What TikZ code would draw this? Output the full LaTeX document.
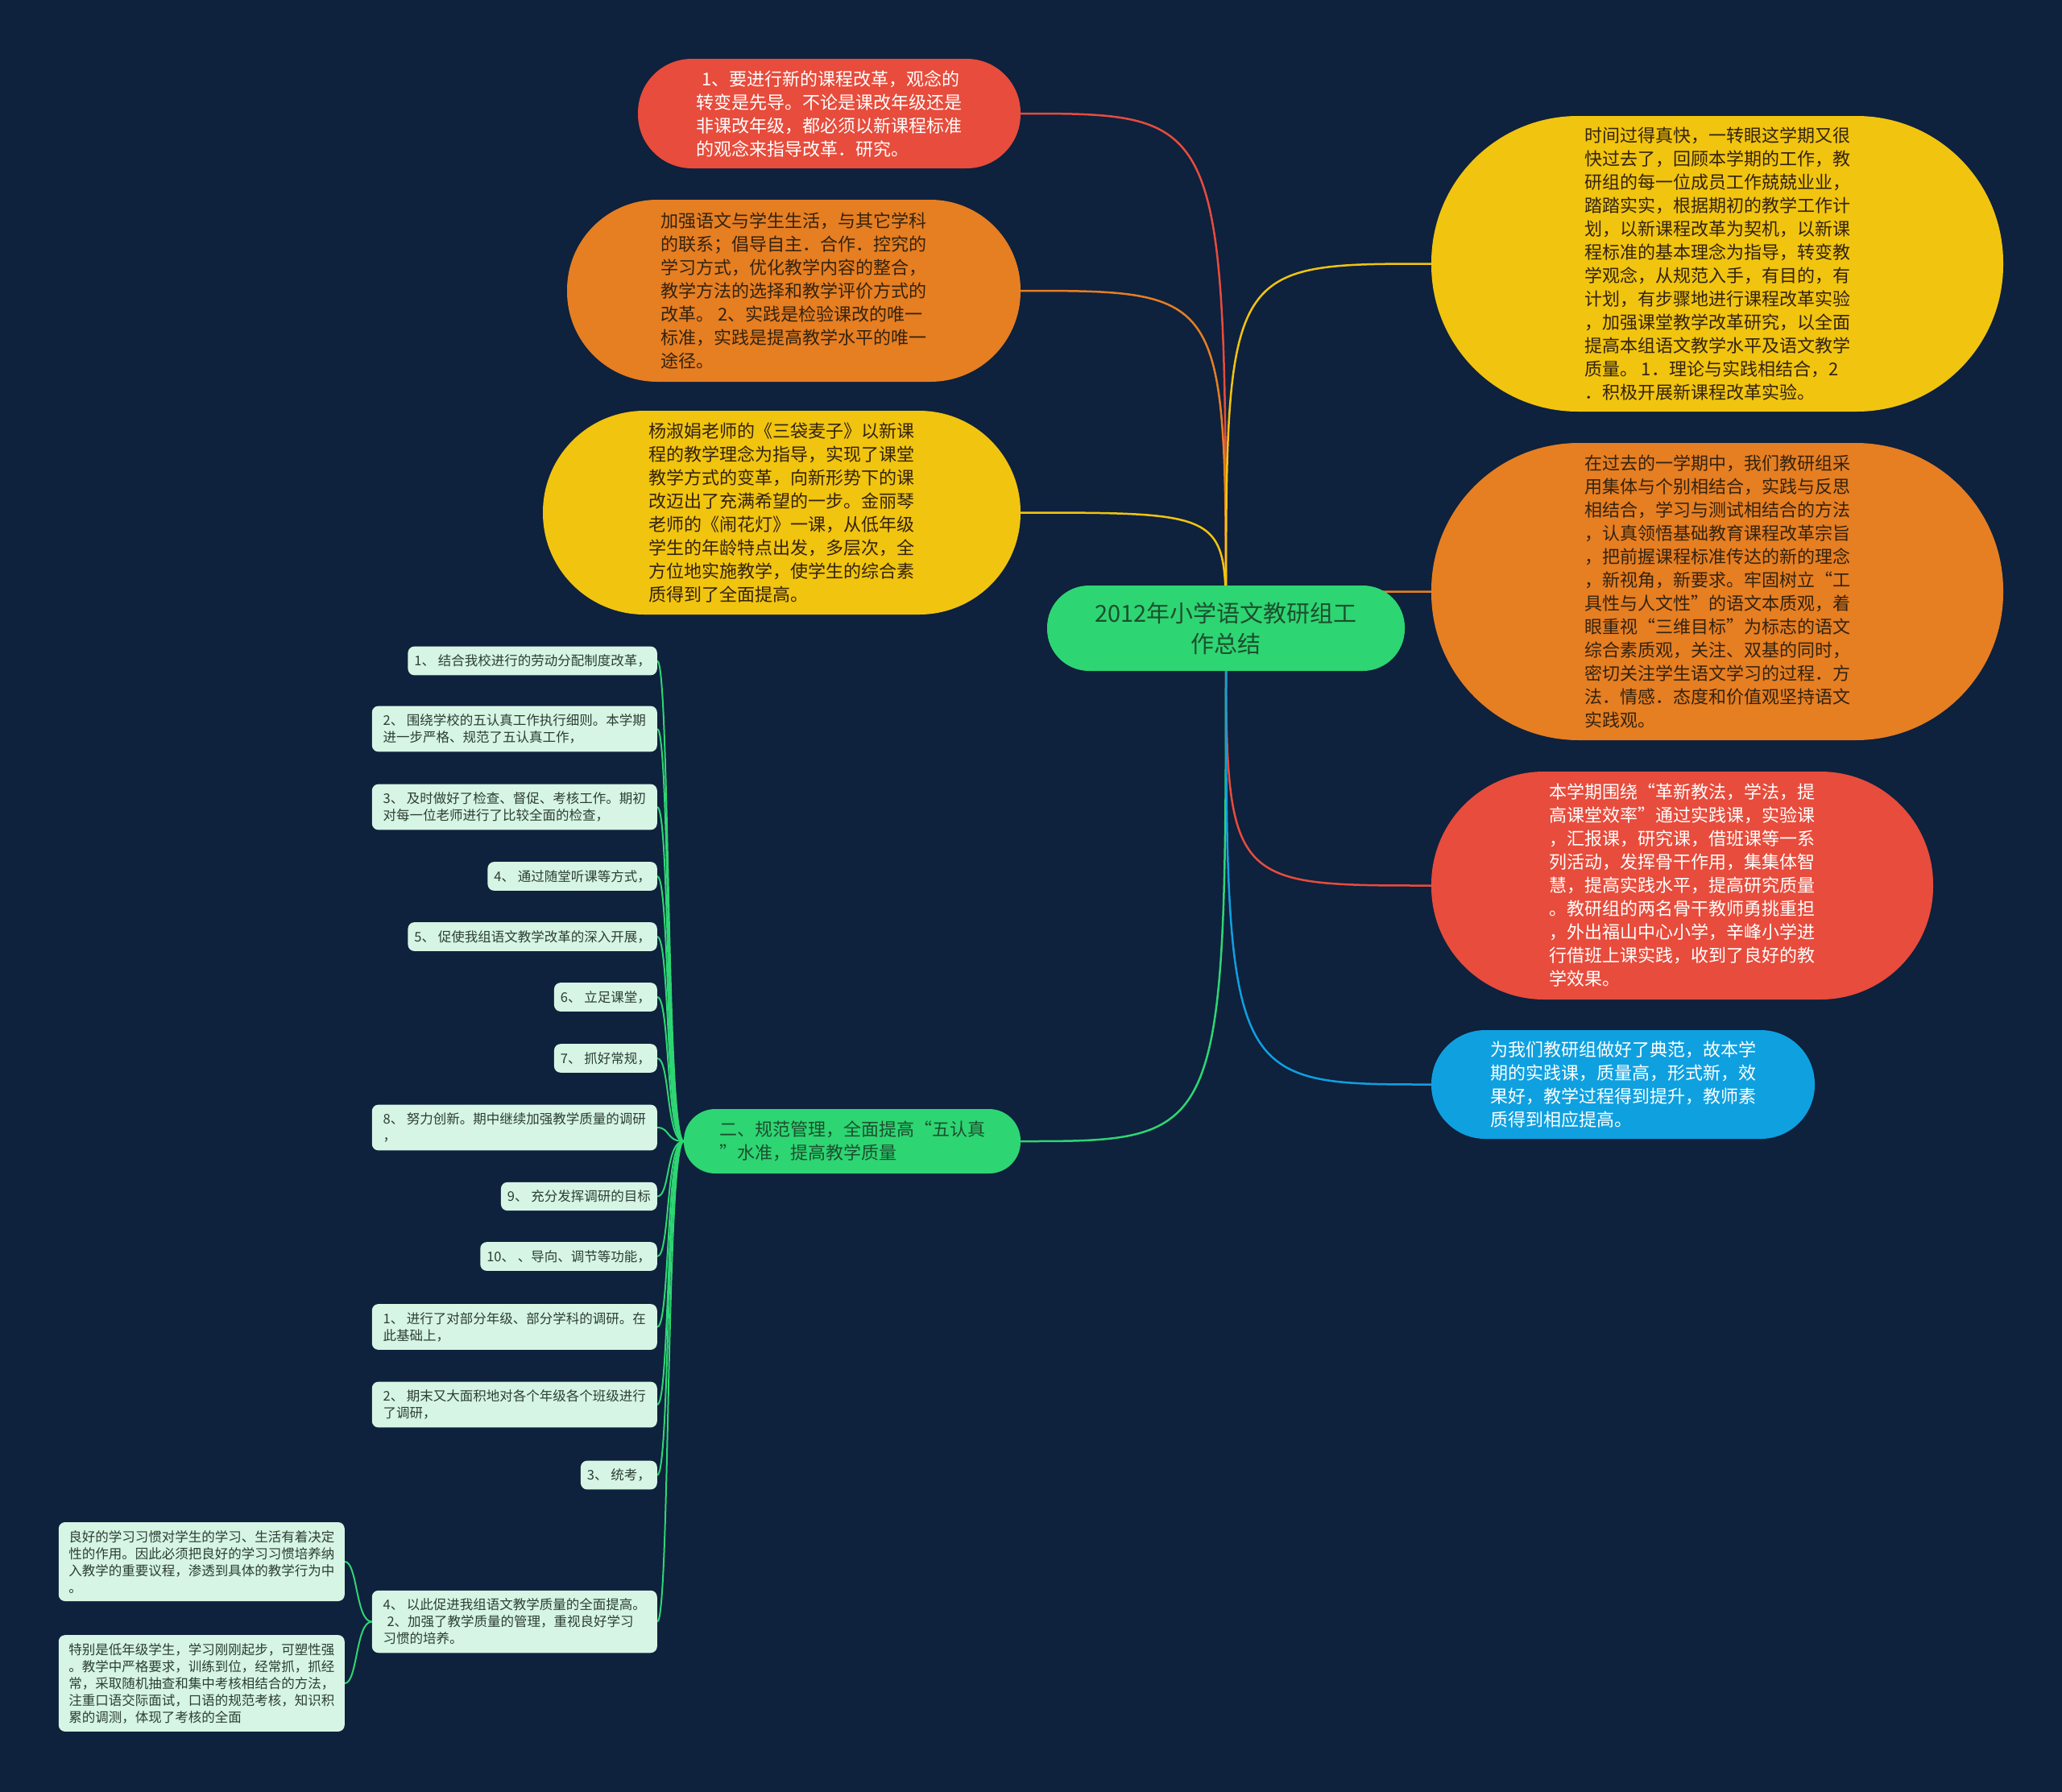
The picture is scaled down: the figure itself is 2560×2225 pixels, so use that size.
\documentclass[tikz,border=0pt]{standalone}
\usepackage{xcolor}
\usepackage{fontspec}
\usepackage{tikz}
\usetikzlibrary{positioning,backgrounds}
\newfontfamily\cjk{Noto Sans CJK SC}

\definecolor{bgnavy}{HTML}{0E213D}
\definecolor{mmred}{HTML}{E74C3C}
\definecolor{mmorange}{HTML}{E67E22}
\definecolor{mmyellow}{HTML}{F1C40F}
\definecolor{mmblue}{HTML}{0FA0E0}
\definecolor{mmgreen}{HTML}{2ED573}
\definecolor{leafgreen}{HTML}{D6F5E4}
\definecolor{darktext}{HTML}{33230F}
\definecolor{greentext}{HTML}{1C4F2E}
\definecolor{leaftext}{HTML}{2C3E35}

\begin{document}
\begin{tikzpicture}[
  x=1pt, y=-1pt,
  topic/.style={
    align=left,
    inner sep=0pt,
    font=\cjk\fontsize{22}{29}\selectfont
  },
  root/.style={
    align=center,
    inner sep=0pt,
    fill=mmgreen,
    text=greentext,
    font=\cjk\fontsize{29}{38}\selectfont
  },
  leaf/.style={
    anchor=east,
    align=left,
    fill=leafgreen,
    text=leaftext,
    rounded corners=8pt,
    inner xsep=8pt,
    inner ysep=10pt,
    font=\cjk\fontsize{16.5}{21}\selectfont
  },
  link/.style={line width=2.5pt},
  twig/.style={line width=2pt, draw=mmgreen}
]
\useasboundingbox (0,0) rectangle (2560,2225);
\begin{scope}[on background layer]
  \fill[bgnavy] (0,0) rectangle (2560,2225);
\end{scope}

% central topic
\node[root, minimum width=444pt, minimum height=106pt, rounded corners=52pt] (ctr) at (1522,780)
  {2012年小学语文教研组工\\作总结};

% left topics
\node[topic, fill=mmred, text=white, minimum width=475pt, minimum height=136pt, rounded corners=67pt] (reform) at (1029.5,141) {
\hspace*{0.3em}1、要进行新的课程改革，观念的\\
转变是先导。不论是课改年级还是\\
非课改年级，都必须以新课程标准\\
的观念来指导改革．研究。};

\node[topic, fill=mmorange, text=darktext, minimum width=563pt, minimum height=226pt, rounded corners=112pt] (life) at (985.5,361) {
加强语文与学生生活，与其它学科\\
的联系；倡导自主．合作．控究的\\
学习方式，优化教学内容的整合，\\
教学方法的选择和教学评价方式的\\
改革。 2、实践是检验课改的唯一\\
标准，实践是提高教学水平的唯一\\
途径。};

\node[topic, fill=mmyellow, text=darktext, minimum width=593pt, minimum height=253pt, rounded corners=126pt] (lesson) at (970.5,636.5) {
杨淑娟老师的《三袋麦子》以新课\\
程的教学理念为指导，实现了课堂\\
教学方式的变革，向新形势下的课\\
改迈出了充满希望的一步。金丽琴\\
老师的《闹花灯》一课，从低年级\\
学生的年龄特点出发，多层次，全\\
方位地实施教学，使学生的综合素\\
质得到了全面提高。};

\node[topic, fill=mmgreen, text=greentext, minimum width=418pt, minimum height=80pt, rounded corners=39pt] (manage) at (1058,1417) {
二、规范管理，全面提高“五认真\\
”水准，提高教学质量};

% right topics
\node[topic, fill=mmyellow, text=darktext, minimum width=710pt, minimum height=367pt, rounded corners=182pt] (intro) at (2132,327.5) {
时间过得真快，一转眼这学期又很\\
快过去了，回顾本学期的工作，教\\
研组的每一位成员工作兢兢业业，\\
踏踏实实，根据期初的教学工作计\\
划，以新课程改革为契机，以新课\\
程标准的基本理念为指导，转变教\\
学观念，从规范入手，有目的，有\\
计划，有步骤地进行课程改革实验\\
，加强课堂教学改革研究，以全面\\
提高本组语文教学水平及语文教学\\
质量。 1．理论与实践相结合，2\\
．积极开展新课程改革实验。};

\node[topic, fill=mmorange, text=darktext, minimum width=710pt, minimum height=369pt, rounded corners=183pt] (method) at (2132,734.5) {
在过去的一学期中，我们教研组采\\
用集体与个别相结合，实践与反思\\
相结合，学习与测试相结合的方法\\
，认真领悟基础教育课程改革宗旨\\
，把前握课程标准传达的新的理念\\
，新视角，新要求。牢固树立“工\\
具性与人文性”的语文本质观，着\\
眼重视“三维目标”为标志的语文\\
综合素质观，关注、双基的同时，\\
密切关注学生语文学习的过程．方\\
法．情感．态度和价值观坚持语文\\
实践观。};

\node[topic, fill=mmred, text=white, minimum width=623pt, minimum height=283pt, rounded corners=140pt] (practice) at (2088.5,1099.5) {
本学期围绕“革新教法，学法，提\\
高课堂效率”通过实践课，实验课\\
，汇报课，研究课，借班课等一系\\
列活动，发挥骨干作用，集集体智\\
慧，提高实践水平，提高研究质量\\
。教研组的两名骨干教师勇挑重担\\
，外出福山中心小学，辛峰小学进\\
行借班上课实践，收到了良好的教\\
学效果。};

\node[topic, fill=mmblue, text=white, minimum width=476pt, minimum height=135pt, rounded corners=67pt] (model) at (2015,1346.5) {
为我们教研组做好了典范，故本学\\
期的实践课，质量高，形式新，效\\
果好，教学过程得到提升，教师素\\
质得到相应提高。};

% leaves of manage
\node[leaf] (m1) at (816,820.5) {1、 结合我校进行的劳动分配制度改革，};
\node[leaf, minimum width=354pt] (m2) at (816,905) {2、 围绕学校的五认真工作执行细则。本学期\\进一步严格、规范了五认真工作，};
\node[leaf, minimum width=354pt] (m3) at (816,1002) {3、 及时做好了检查、督促、考核工作。期初\\对每一位老师进行了比较全面的检查，};
\node[leaf] (m4) at (816,1088) {4、 通过随堂听课等方式，};
\node[leaf] (m5) at (816,1163) {5、 促使我组语文教学改革的深入开展，};
\node[leaf] (m6) at (816,1238) {6、 立足课堂，};
\node[leaf] (m7) at (816,1314) {7、 抓好常规，};
\node[leaf, minimum width=354pt] (m8) at (816,1400) {8、 努力创新。期中继续加强教学质量的调研\\，};
\node[leaf] (m9) at (816,1485.5) {9、 充分发挥调研的目标};
\node[leaf] (m10) at (816,1560) {10、 、导向、调节等功能，};
\node[leaf, minimum width=354pt] (m11) at (816,1647.5) {1、 进行了对部分年级、部分学科的调研。在\\此基础上，};
\node[leaf, minimum width=354pt] (m12) at (816,1744) {2、 期末又大面积地对各个年级各个班级进行\\了调研，};
\node[leaf] (m13) at (816,1831.5) {3、 统考，};
\node[leaf, minimum width=354pt] (m14) at (816,2013.5) {4、 以此促进我组语文教学质量的全面提高。\\\hspace*{0.3em}2、加强了教学质量的管理，重视良好学习\\习惯的培养。};

% leaves of m14
\node[leaf, minimum width=355pt] (habit) at (428,1939) {良好的学习习惯对学生的学习、生活有着决定\\性的作用。因此必须把良好的学习习惯培养纳\\入教学的重要议程，渗透到具体的教学行为中\\。};
\node[leaf, minimum width=355pt] (junior) at (428,2090) {特别是低年级学生，学习刚刚起步，可塑性强\\。教学中严格要求，训练到位，经常抓，抓经\\常，采取随机抽查和集中考核相结合的方法，\\注重口语交际面试，口语的规范考核，知识积\\累的调测，体现了考核的全面};

\begin{scope}[on background layer]
  \draw[link, mmred] (ctr.center) .. controls (ctr.center |- reform.east) .. (reform.east);
  \draw[link, mmorange] (ctr.center) .. controls (ctr.center |- life.east) .. (life.east);
  \draw[link, mmyellow] (ctr.center) .. controls (ctr.center |- lesson.east) .. (lesson.east);
  \draw[link, mmgreen] (ctr.center) .. controls (ctr.center |- manage.east) .. (manage.east);
  \draw[link, mmyellow] (ctr.center) .. controls (ctr.center |- intro.west) .. (intro.west);
  \draw[link, mmorange] (ctr.center) .. controls (ctr.center |- method.west) .. (method.west);
  \draw[link, mmred] (ctr.center) .. controls (ctr.center |- practice.west) .. (practice.west);
  \draw[link, mmblue] (ctr.center) .. controls (ctr.center |- model.west) .. (model.west);
  \foreach \m in {m1,m2,m3,m4,m5,m6,m7,m8,m9,m10,m11,m12,m13,m14}
    \draw[twig] (manage.west) .. controls +(-22,0) and +(16,0) .. (\m.east);
  \foreach \m in {habit,junior}
    \draw[twig] (m14.west) .. controls +(-20,0) and +(16,0) .. (\m.east);
\end{scope}
\end{tikzpicture}
\end{document}
